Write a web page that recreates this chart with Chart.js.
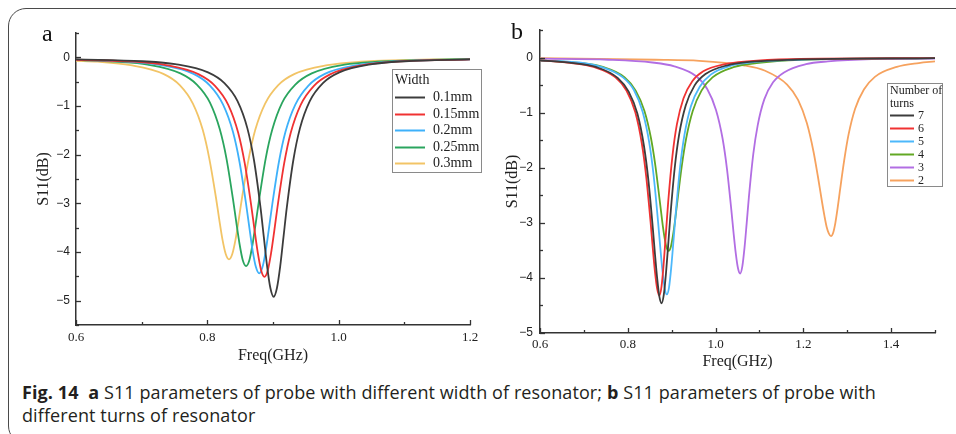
<!DOCTYPE html>
<html>
<head>
<meta charset="utf-8">
<script src="https://cdn.jsdelivr.net/npm/chart.js@4.4.1/dist/chart.umd.min.js"></script>
<style>
  html, body { margin: 0; padding: 0; background: #fff; }
  body { width: 956px; height: 434px; position: relative; overflow: hidden; }
  #frame { position: absolute; left: 8px; top: 8px; width: 980px; height: 436px;
           border: 1.5px solid #4a4a4a; border-radius: 18px; box-sizing: border-box; }
  canvas { position: absolute; top: 0; }
  #chartA { left: 0; }
  #chartB { left: 480px; }
  .letter { position: absolute; font-family: 'Liberation Serif', serif; font-size: 24px; color: #111; }
  #caption { position: absolute; left: 22px; top: 381px; font-family: 'Open Sans', sans-serif;
             font-size: 18px; letter-spacing: 0.1px; line-height: 23px; color: #231f20; white-space: nowrap; }
  #caption b { font-weight: 700; }
</style>
</head>
<body>
<div id="frame"></div>
<canvas id="chartA" width="490" height="372"></canvas>
<canvas id="chartB" width="476" height="380"></canvas>
<div class="letter" style="left:42px; top:20px;">a</div>
<div class="letter" style="left:511px; top:18px;">b</div>
<div id="caption"><b>Fig. 14</b>&nbsp; <b>a</b> S11 parameters of probe with different width of resonator; <b>b</b> S11 parameters of probe with<br>different turns of resonator</div>
<script>
// ---- panel a : width of resonator ----
const widthLabels = ['0.1mm', '0.15mm', '0.2mm', '0.25mm', '0.3mm'];
const widthColors = ['#3c3c3c', '#f03232', '#3eb1fa', '#2aa55e', '#f2c466'];

const freqW01 = [0.600, 0.701, 0.751, 0.801, 0.826, 0.846, 0.861, 0.871, 0.881, 0.886, 0.891, 0.896, 0.901, 0.906, 0.911, 0.916, 0.921, 0.931, 0.941, 0.956, 0.976, 1.001, 1.051, 1.101, 1.200];
const s11W01 = [-0.04, -0.08, -0.14, -0.31, -0.53, -0.90, -1.46, -2.11, -3.09, -3.69, -4.29, -4.74, -4.92, -4.74, -4.29, -3.69, -3.09, -2.11, -1.46, -0.90, -0.53, -0.31, -0.14, -0.08, -0.04];

const freqW015 = [0.600, 0.687, 0.737, 0.787, 0.812, 0.832, 0.847, 0.857, 0.867, 0.872, 0.877, 0.882, 0.887, 0.892, 0.897, 0.902, 0.907, 0.917, 0.927, 0.942, 0.962, 0.987, 1.037, 1.087, 1.200];
const s11W015 = [-0.05, -0.09, -0.16, -0.35, -0.59, -0.98, -1.55, -2.18, -3.06, -3.56, -4.03, -4.38, -4.51, -4.38, -4.03, -3.56, -3.06, -2.18, -1.55, -0.98, -0.59, -0.35, -0.16, -0.09, -0.04];

const freqW02 = [0.600, 0.679, 0.729, 0.779, 0.804, 0.824, 0.839, 0.849, 0.859, 0.864, 0.869, 0.874, 0.879, 0.884, 0.889, 0.894, 0.899, 0.909, 0.919, 0.934, 0.954, 0.979, 1.029, 1.079, 1.200];
const s11W02 = [-0.05, -0.09, -0.16, -0.34, -0.58, -0.97, -1.53, -2.15, -3.01, -3.50, -3.97, -4.31, -4.44, -4.31, -3.97, -3.50, -3.01, -2.15, -1.53, -0.97, -0.58, -0.34, -0.16, -0.09, -0.04];

const freqW025 = [0.600, 0.659, 0.709, 0.759, 0.784, 0.804, 0.819, 0.829, 0.839, 0.844, 0.849, 0.854, 0.859, 0.864, 0.869, 0.874, 0.879, 0.889, 0.899, 0.914, 0.934, 0.959, 1.009, 1.059, 1.200];
const s11W025 = [-0.05, -0.09, -0.15, -0.33, -0.56, -0.93, -1.48, -2.07, -2.91, -3.38, -3.83, -4.17, -4.29, -4.17, -3.83, -3.38, -2.91, -2.07, -1.48, -0.93, -0.56, -0.33, -0.15, -0.09, -0.03];

const freqW03 = [0.600, 0.633, 0.683, 0.733, 0.758, 0.778, 0.793, 0.803, 0.813, 0.818, 0.823, 0.828, 0.833, 0.838, 0.843, 0.848, 0.853, 0.863, 0.873, 0.888, 0.908, 0.933, 0.983, 1.033, 1.200];
const s11W03 = [-0.07, -0.09, -0.16, -0.34, -0.57, -0.95, -1.49, -2.08, -2.87, -3.32, -3.74, -4.04, -4.15, -4.04, -3.74, -3.32, -2.87, -2.08, -1.49, -0.95, -0.57, -0.34, -0.16, -0.09, -0.03];

const xTicksA = [0.6, 0.8, 1.0, 1.2];
const yTicksA = [0, -1, -2, -3, -4, -5];

// ---- panel b : number of turns ----
const turnLabels = ['7', '6', '5', '4', '3', '2'];
const turnColors = ['#3c3c3c', '#f03232', '#4cb8fb', '#62a824', '#b26ee3', '#f6a25e'];

const freqT7 = [0.600, 0.677, 0.727, 0.777, 0.802, 0.822, 0.837, 0.847, 0.857, 0.862, 0.867, 0.872, 0.877, 0.882, 0.887, 0.892, 0.897, 0.907, 0.917, 0.932, 0.952, 0.977, 1.027, 1.077, 1.177, 1.500];
const s11T7 = [-0.05, -0.10, -0.17, -0.37, -0.62, -1.02, -1.61, -2.23, -3.09, -3.57, -4.01, -4.34, -4.46, -4.31, -3.92, -3.41, -2.88, -2.00, -1.40, -0.87, -0.51, -0.30, -0.14, -0.08, -0.04, -0.01];

const freqT6 = [0.600, 0.672, 0.722, 0.772, 0.797, 0.817, 0.832, 0.842, 0.852, 0.857, 0.862, 0.867, 0.872, 0.877, 0.882, 0.887, 0.892, 0.902, 0.912, 0.927, 0.947, 0.972, 1.022, 1.072, 1.172, 1.500];
const s11T6 = [-0.05, -0.10, -0.17, -0.36, -0.60, -0.99, -1.56, -2.16, -2.99, -3.46, -3.89, -4.20, -4.32, -4.15, -3.72, -3.18, -2.63, -1.77, -1.21, -0.74, -0.43, -0.25, -0.12, -0.07, -0.03, -0.01];

const freqT5 = [0.600, 0.689, 0.739, 0.789, 0.814, 0.834, 0.849, 0.859, 0.869, 0.874, 0.879, 0.884, 0.889, 0.894, 0.899, 0.904, 0.909, 0.919, 0.929, 0.944, 0.964, 0.989, 1.039, 1.089, 1.189, 1.500];
const s11T5 = [-0.05, -0.09, -0.17, -0.36, -0.59, -0.99, -1.55, -2.15, -2.98, -3.44, -3.87, -4.18, -4.30, -4.17, -3.81, -3.34, -2.85, -2.00, -1.41, -0.88, -0.53, -0.31, -0.14, -0.08, -0.04, -0.01];

const freqT4 = [0.600, 0.693, 0.743, 0.793, 0.818, 0.838, 0.853, 0.863, 0.873, 0.878, 0.883, 0.888, 0.893, 0.898, 0.903, 0.908, 0.913, 0.923, 0.933, 0.948, 0.968, 0.993, 1.043, 1.093, 1.193, 1.500];
const s11T4 = [-0.05, -0.10, -0.17, -0.36, -0.60, -0.97, -1.47, -1.97, -2.61, -2.94, -3.23, -3.44, -3.51, -3.44, -3.23, -2.94, -2.61, -1.97, -1.47, -0.97, -0.60, -0.36, -0.17, -0.10, -0.04, -0.01];

const freqT3 = [0.600, 0.756, 0.856, 0.906, 0.956, 0.981, 1.001, 1.016, 1.026, 1.036, 1.041, 1.046, 1.051, 1.056, 1.061, 1.066, 1.071, 1.076, 1.086, 1.096, 1.111, 1.131, 1.156, 1.206, 1.256, 1.356, 1.500];
const s11T3 = [-0.02, -0.04, -0.09, -0.16, -0.34, -0.57, -0.95, -1.47, -2.02, -2.77, -3.18, -3.55, -3.82, -3.92, -3.79, -3.45, -3.00, -2.53, -1.75, -1.23, -0.76, -0.45, -0.27, -0.12, -0.07, -0.03, -0.02];

const freqT2 = [0.600, 0.863, 0.963, 1.063, 1.113, 1.163, 1.188, 1.208, 1.223, 1.233, 1.243, 1.248, 1.253, 1.258, 1.263, 1.268, 1.273, 1.278, 1.283, 1.293, 1.303, 1.318, 1.338, 1.363, 1.413, 1.463, 1.500];
const s11T2 = [-0.01, -0.04, -0.06, -0.14, -0.24, -0.49, -0.77, -1.19, -1.70, -2.15, -2.64, -2.87, -3.07, -3.19, -3.24, -3.18, -3.00, -2.74, -2.44, -1.87, -1.40, -0.93, -0.58, -0.35, -0.17, -0.10, -0.07];

const xTicksB = [0.6, 0.8, 1.0, 1.2, 1.4];
const yTicksB = [0, -1, -2, -3, -4, -5];

// 点列 {x, y} にまとめる
function pts(xs, ys) {
    return xs.map((x, i) => ({ x: x, y: ys[i] }));
}

function makeDatasets(labels, colors, xsList, ysList) {
    return labels.map((label, i) => ({
        label: label,
        data: pts(xsList[i], ysList[i]),
        borderColor: colors[i],
        backgroundColor: colors[i],
        borderWidth: 1.8,
        pointRadius: 0,
        showLine: true,
        fill: false,
        cubicInterpolationMode: 'monotone'
    }));
}

const AXIS_COLOR = '#333';

// 内向きの目盛り線（主・副）
const innerTicks = {
    id: 'innerTicks',
    afterDatasetsDraw(chart, args, o) {
        const ctx = chart.ctx;
        const area = chart.chartArea;
        ctx.save();
        ctx.strokeStyle = AXIS_COLOR;
        ctx.lineWidth = 1.3;
        [['x', o.xMajor, o.xMinor], ['y', o.yMajor, o.yMinor]].forEach(([id, major, minor]) => {
            const s = chart.scales[id];
            const n0 = Math.ceil(s.min / minor - 1e-6);
            const n1 = Math.floor(s.max / minor + 1e-6);
            const ratio = Math.round(major / minor);
            for (let k = n0; k <= n1; k++) {
                const len = (k % ratio === 0) ? 5 : 3;
                const p = Math.round(s.getPixelForValue(k * minor)) + 0.5;
                ctx.beginPath();
                if (id === 'x') {
                    ctx.moveTo(p, area.bottom);
                    ctx.lineTo(p, area.bottom - len);
                } else {
                    ctx.moveTo(area.left, p);
                    ctx.lineTo(area.left + len, p);
                }
                ctx.stroke();
            }
        });
        ctx.restore();
    }
};

// 枠付き凡例
const boxLegend = {
    id: 'boxLegend',
    afterDraw(chart, args, o) {
        const ctx = chart.ctx;
        ctx.save();
        ctx.fillStyle = '#fff';
        ctx.fillRect(o.x, o.y, o.w, o.h);
        ctx.strokeStyle = '#8a8a8a';
        ctx.lineWidth = 1;
        ctx.strokeRect(o.x + 0.5, o.y + 0.5, o.w, o.h);
        ctx.font = o.font;
        ctx.textBaseline = 'middle';
        ctx.textAlign = 'left';
        ctx.fillStyle = '#222';
        o.title.forEach((t, i) => ctx.fillText(t, o.x + 3, o.titleY + i * o.titleGap));
        chart.data.datasets.forEach((ds, i) => {
            const y = Math.round(o.rowY + i * o.rowGap) + 0.5;
            ctx.strokeStyle = ds.borderColor;
            ctx.lineWidth = 2;
            ctx.beginPath();
            ctx.moveTo(o.x + 3, y);
            ctx.lineTo(o.x + 3 + o.lineLen, y);
            ctx.stroke();
            ctx.fillStyle = '#222';
            ctx.fillText(ds.label, o.labelX, y);
        });
        ctx.restore();
    }
};

function minusLabel(v) {
    return v < 0 ? '\u2212' + Math.abs(v) : String(v);
}

function makeChart(canvasId, datasets, cfg) {
    return new Chart(document.getElementById(canvasId), {
        type: 'scatter',
        data: { datasets: datasets },
        options: {
            responsive: false,
            animation: false,
            layout: { padding: cfg.padding },
            plugins: {
                legend: { display: false },
                tooltip: { enabled: false },
                innerTicks: { xMajor: 0.2, xMinor: 0.1, yMajor: 1, yMinor: 0.5 },
                boxLegend: cfg.legend
            },
            scales: {
                x: {
                    type: 'linear',
                    min: cfg.xMin, max: cfg.xMax,
                    afterBuildTicks: s => { s.ticks = cfg.xTicks.map(v => ({ value: v })); },
                    afterFit: s => { s.height = cfg.xAxisH; },
                    grid: { display: false, drawTicks: false },
                    border: { display: true, color: AXIS_COLOR, width: 1.5 },
                    ticks: {
                        padding: cfg.xTickPad,
                        color: '#222',
                        font: { family: 'Liberation Serif', size: 13 },
                        maxRotation: 0,
                        callback: v => v.toFixed(1)
                    },
                    title: {
                        display: true,
                        text: 'Freq(GHz)',
                        color: '#222',
                        font: { family: 'Liberation Serif', size: 16 },
                        padding: { top: 0, bottom: cfg.xTitlePad }
                    }
                },
                y: {
                    type: 'linear',
                    min: cfg.yMin, max: cfg.yMax,
                    afterBuildTicks: s => { s.ticks = cfg.yTicks.map(v => ({ value: v })); },
                    afterFit: s => { s.width = cfg.yAxisW; },
                    grid: { display: false, drawTicks: false },
                    border: { display: true, color: AXIS_COLOR, width: 1.5 },
                    ticks: {
                        padding: cfg.yTickPad,
                        color: '#222',
                        font: { family: 'Liberation Sans', size: 12 },
                        callback: v => minusLabel(v)
                    },
                    title: {
                        display: true,
                        text: 'S11(dB)',
                        color: '#222',
                        font: { family: 'Liberation Serif', size: 16 },
                        padding: { top: cfg.yTitlePad, bottom: 0 }
                    }
                }
            }
        },
        plugins: [innerTicks, boxLegend]
    });
}

makeChart('chartA',
    makeDatasets(widthLabels, widthColors,
        [freqW01, freqW015, freqW02, freqW025, freqW03],
        [s11W01, s11W015, s11W02, s11W025, s11W03]),
    {
        padding: { top: 33, right: 20, bottom: 0, left: 0 },
        xMin: 0.6, xMax: 1.2, yMin: -5.5, yMax: 0.5,
        xTicks: xTicksA, yTicks: yTicksA,
        xAxisH: 47, yAxisW: 76,
        xTickPad: 5, yTickPad: 6,
        xTitlePad: 7, yTitlePad: 34,
        legend: {
            x: 392, y: 69, w: 89, h: 103,
            font: '14px "Liberation Serif"',
            title: ['Width'], titleY: 80, titleGap: 0,
            rowY: 97, rowGap: 16.5, lineLen: 30, labelX: 433
        }
    });

makeChart('chartB',
    makeDatasets(turnLabels, turnColors,
        [freqT7, freqT6, freqT5, freqT4, freqT3, freqT2],
        [s11T7, s11T6, s11T5, s11T4, s11T3, s11T2]),
    {
        padding: { top: 30, right: 21, bottom: 0, left: 0 },
        xMin: 0.6, xMax: 1.5, yMin: -5, yMax: 0.5,
        xTicks: xTicksB, yTicks: yTicksB,
        xAxisH: 47, yAxisW: 60,
        xTickPad: 4, yTickPad: 7,
        xTitlePad: 9, yTitlePad: 23,
        legend: {
            x: 407, y: 83, w: 55, h: 103,
            font: '12px "Liberation Serif"',
            title: ['Number of', 'turns'], titleY: 91, titleGap: 13,
            rowY: 115, rowGap: 13, lineLen: 24, labelX: 438
        }
    });
</script>
</body>
</html>
